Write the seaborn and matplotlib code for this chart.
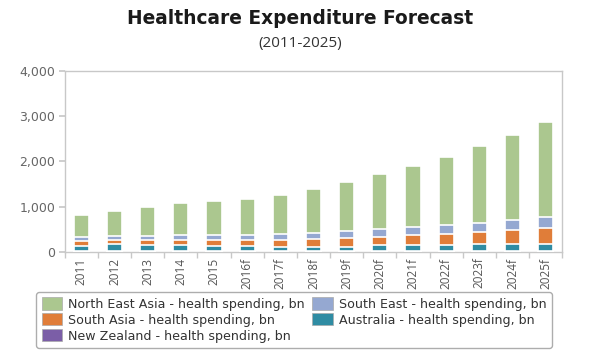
import matplotlib
matplotlib.use("Agg")
import matplotlib.pyplot as plt
import seaborn as sns
import pandas as pd
import numpy as np

years = ["2011", "2012", "2013", "2014", "2015", "2016f", "2017f", "2018f",
         "2019f", "2020f", "2021f", "2022f", "2023f", "2024f", "2025f"]
new_zealand = [12, 12, 12, 12, 12, 12, 12, 12, 12, 12, 12, 12, 12, 12, 12]
australia = [127, 157, 135, 135, 113, 113, 105, 105, 105, 135, 135, 135, 157, 157, 157]
south_asia = [103, 95, 117, 117, 139, 139, 147, 169, 191, 183, 227, 249, 271, 323, 359]
south_east = [88, 88, 88, 110, 110, 110, 132, 132, 154, 176, 184, 191, 198, 212, 242]
north_east_asia = [492, 558, 646, 712, 756, 800, 866, 976, 1086, 1218, 1342, 1519, 1710, 1886, 2106]

series_names = ["New Zealand - health spending, bn",
                "Australia - health spending, bn",
                "South Asia - health spending, bn",
                "South East - health spending, bn",
                "North East Asia - health spending, bn"]
series_vals = [new_zealand, australia, south_asia, south_east, north_east_asia]
colors = ["#7b5ea7", "#2f8ca3", "#e07d39", "#95a8d1", "#abc78f"]

sns.set_theme(style="white")
plt.rcParams['font.family'] = ['DejaVu Sans']

fig = plt.figure(figsize=(6, 3.6), dpi=100)
ax = fig.add_axes([0.108, 0.30, 0.829, 0.503])

cum = np.cumsum(np.array(series_vals, dtype=float), axis=0)
handles = {}
for i in range(len(series_names) - 1, -1, -1):
    df = pd.DataFrame({"year": years, "value": cum[i]})
    sns.barplot(data=df, x="year", y="value", color=colors[i], width=0.46,
                edgecolor="white", linewidth=1.2, saturation=1, ax=ax, zorder=2 + (len(series_names) - i))
    handles[series_names[i]] = plt.Rectangle((0, 0), 1, 1, facecolor=colors[i], edgecolor="#aaaaaa", linewidth=0.5)

ax.set_xlim(-0.5, 14.5)
ax.set_ylim(0, 4000)
ax.set_yticks([0, 1000, 2000, 3000, 4000])
ax.set_yticklabels(["0", "1,000", "2,000", "3,000", "4,000"])
ax.set_xlabel("")
ax.set_ylabel("")
for s in ax.spines.values():
    s.set_color("#c8c8c8")
    s.set_linewidth(1)
ax.tick_params(axis="y", colors="#c8c8c8", labelcolor="#666666", labelsize=9, length=4, direction="out", left=True, pad=3)
ax.tick_params(axis="x", labelcolor="#555555", labelsize=8.5, length=0, pad=4)
ax.set_xticks(range(len(years)))
ax.set_xticklabels(years, rotation=90, fontfamily="Open Sans")
ax.set_xticks(np.arange(-0.5, 15, 1), minor=True)
ax.tick_params(axis="x", which="minor", length=4, color="#c8c8c8", direction="out", bottom=True)

fig.text(0.5, 0.950, "Healthcare Expenditure Forecast", ha="center", va="center",
         fontsize=13.4, fontweight="bold", color="#1a1a1a", fontfamily="DejaVu Sans")
fig.text(0.5, 0.88, "(2011-2025)", ha="center", va="center", fontsize=11, color="#333333",
         fontfamily="Open Sans")

order = ["North East Asia - health spending, bn", "South Asia - health spending, bn",
         "New Zealand - health spending, bn", "South East - health spending, bn",
         "Australia - health spending, bn"]
leg = fig.legend([handles[n] for n in order], order, loc="center", bbox_to_anchor=(0.49, 0.111),
                 ncol=2, fontsize=9.1, frameon=True, fancybox=True, edgecolor="#999999",
                 handlelength=1.6, handleheight=1.1, handletextpad=0.5, columnspacing=0.6,
                 labelspacing=0.2, borderpad=0.4, labelcolor="#333333")
leg.get_frame().set_linewidth(1)

fig.savefig("out.png", dpi=100, facecolor="white")
